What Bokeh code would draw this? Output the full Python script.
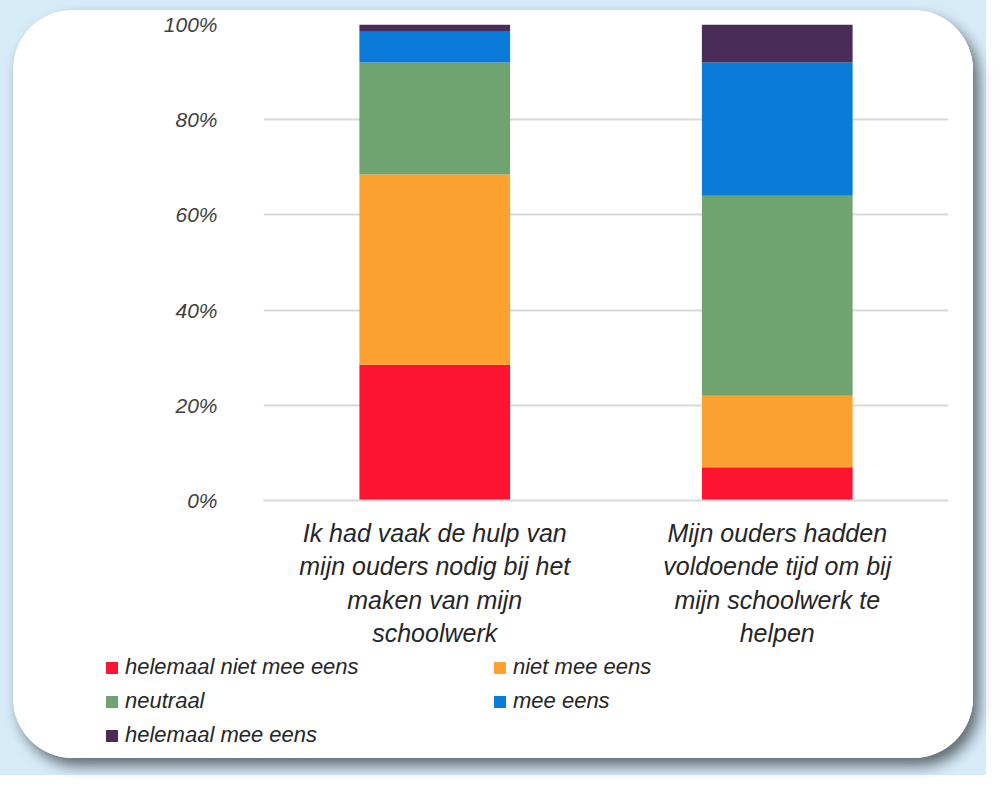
from bokeh.plotting import figure
from bokeh.models import (FactorRange, Range1d, NumeralTickFormatter, FixedTicker,
                          Legend, LegendItem)
from bokeh.layouts import column
from bokeh.embed import file_html
from bokeh.resources import INLINE

# ---- data ----
categories = [
    "Ik had vaak de hulp van\nmijn ouders nodig bij het\nmaken van mijn\nschoolwerk",
    "Mijn ouders hadden\nvoldoende tijd om bij\nmijn schoolwerk te\nhelpen",
]
series = ["helemaal niet mee eens", "niet mee eens", "neutraal", "mee eens", "helemaal mee eens"]
helemaal_niet_mee_eens = [0.285, 0.07]
niet_mee_eens = [0.40, 0.15]
neutraal = [0.235, 0.42]
mee_eens = [0.065, 0.28]
helemaal_mee_eens = [0.015, 0.08]
y_ticks = [0, 0.2, 0.4, 0.6, 0.8, 1.0]

colors = ["#fe1430", "#fda130", "#6fa36f", "#0a7bd9", "#4b2c59"]
FONT = "Liberation Sans"
TXT = "#262626"

data = {"cat": categories}
for name, vals in zip(series, [helemaal_niet_mee_eens, niet_mee_eens, neutraal,
                               mee_eens, helemaal_mee_eens]):
    data[name] = vals

# ---- main chart ----
p = figure(x_range=FactorRange(*categories), y_range=Range1d(0, 1.0),
           width=960, height=640, output_backend="svg", toolbar_location=None,
           min_border_left=250, min_border_right=25, min_border_top=14,
           min_border_bottom=140)
p.outline_line_color = None
p.background_fill_color = "white"
p.border_fill_color = "white"

renderers = p.vbar_stack(series, x="cat", width=0.44, color=colors, source=data,
                         line_color=None)

p.x_range.range_padding = 0
p.xgrid.grid_line_color = None
p.ygrid.grid_line_color = "#d9d9d9"
p.ygrid.grid_line_width = 2
p.yaxis.ticker = FixedTicker(ticks=y_ticks)
p.yaxis.formatter = NumeralTickFormatter(format="0%")
p.yaxis.axis_line_color = None
p.yaxis.major_tick_line_color = None
p.yaxis.minor_tick_line_color = None
p.yaxis.major_label_text_font = FONT
p.yaxis.major_label_text_font_style = "italic"
p.yaxis.major_label_text_font_size = "21px"
p.yaxis.major_label_text_color = "#404040"
p.yaxis.major_label_standoff = 40

p.xaxis.axis_line_color = "#d9d9d9"
p.xaxis.axis_line_width = 2
p.xaxis.major_tick_line_color = None
p.xaxis.minor_tick_line_color = None
p.xaxis.major_label_text_font = FONT
p.xaxis.major_label_text_font_style = "italic"
p.xaxis.major_label_text_font_size = "25px"
p.xaxis.major_label_text_color = TXT
p.xaxis.major_label_standoff = 12

# ---- legend strip (same series, glyphs hidden; only the legend is shown) ----
q = figure(x_range=FactorRange(*categories), y_range=Range1d(0, 1.0),
           width=960, height=108, output_backend="svg", toolbar_location=None,
           min_border=0, x_axis_location=None, y_axis_location=None)
q.frame_align = False
q.outline_line_color = None
q.grid.visible = False
q.background_fill_color = "white"
q.border_fill_color = "white"
q_renderers = q.vbar_stack(series, x="cat", width=0.44, color=colors, source=data,
                           line_color=None)
for r in q_renderers:
    r.visible = False

items = [LegendItem(label=s, renderers=[r]) for s, r in zip(series, q_renderers)]


def make_legend(its, loc):
    lg = Legend(items=its, location=loc, orientation="vertical")
    lg.label_text_font = FONT
    lg.label_text_font_style = "italic"
    lg.label_text_font_size = "22px"
    lg.label_text_color = TXT
    lg.glyph_width = 15
    lg.glyph_height = 15
    lg.label_height = 30
    lg.spacing = 4
    lg.padding = 0
    lg.margin = 0
    lg.label_standoff = 6
    lg.background_fill_alpha = 0
    lg.border_line_color = None
    lg.inactive_fill_alpha = 0
    return lg


q.add_layout(make_legend([items[0], items[2], items[4]], (91, 8)))
q.add_layout(make_legend([items[1], items[3]], (479, 42)))

card = column(p, q, width=960, height=748,
              styles={"border-radius": "60px", "overflow": "hidden",
                      "background-color": "white",
                      "box-shadow": "6px 8px 14px rgba(0,0,0,0.55)"})
card.margin = (10, 13, 17, 13)

layout = column(card, width=986, height=775,
                styles={"background-color": "#d6ecf9"})

open("out.html", "w").write(file_html(layout, INLINE))
